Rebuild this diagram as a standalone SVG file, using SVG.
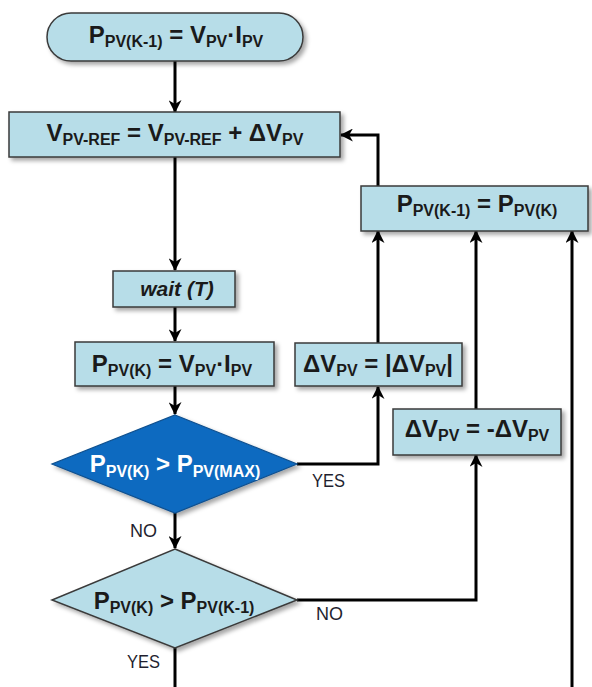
<svg xmlns="http://www.w3.org/2000/svg" width="592" height="687" viewBox="0 0 592 687">
  <defs>
    <filter id="shadow" x="-10%" y="-20%" width="130%" height="160%">
      <feDropShadow dx="3" dy="3" stdDeviation="2" flood-color="#000" flood-opacity="0.35"/>
    </filter>
    <marker id="arrow" markerUnits="userSpaceOnUse" markerWidth="13" markerHeight="13" viewBox="0 0 12 12" refX="11" refY="6" orient="auto">
      <path d="M0,0 L12,6 L0,12 L3.5,6 z" fill="#000"/>
    </marker>
    <style>
      .box { fill: #B7DDE8; stroke: #3a3a3a; stroke-width: 1.5; filter: url(#shadow); }
      .dark { fill: #0B6BC0; stroke: #0a4f8f; stroke-width: 1.2; filter: url(#shadow); }
      .t { font-family: "Liberation Sans", Arial, sans-serif; font-weight: bold; font-size: 24px; fill: #1a1a1a; text-anchor: middle; }
      .s { font-size: 16px; }
      .w { fill: #ffffff; }
      .it { font-style: italic; font-size: 21px; }
      .lbl { font-family: "Liberation Sans", Arial, sans-serif; font-size: 18px; fill: #1f1f2f; }
      .c { fill: none; stroke: #000; stroke-width: 3; }
      .ca { fill: none; stroke: #000; stroke-width: 3; marker-end: url(#arrow); }
    </style>
  </defs>

  <!-- connectors -->
  <g id="connectors">
    <path class="ca" d="M175,61 V112"/>
    <path class="ca" d="M175,157 V270"/>
    <path class="ca" d="M175,307 V341"/>
    <path class="ca" d="M175,386 V414"/>
    <path class="ca" d="M297,464 H378 V387"/>
    <path class="ca" d="M175,513 V548"/>
    <path class="ca" d="M297,600 H476 V455"/>
    <path class="c" d="M175,648 V687"/>
    <path class="ca" d="M378,343 V231"/>
    <path class="ca" d="M476,409 V231"/>
    <path class="ca" d="M572,687 V231"/>
    <path class="ca" d="M378,186 V135 H341"/>
    <text class="lbl" x="312" y="487" textLength="33" lengthAdjust="spacingAndGlyphs">YES</text>
    <text class="lbl" x="130" y="537">NO</text>
    <text class="lbl" x="316" y="620">NO</text>
    <text class="lbl" x="127" y="668" textLength="33" lengthAdjust="spacingAndGlyphs">YES</text>
  </g>

  <!-- start: P(k-1) = V·I -->
  <g id="start">
    <rect class="box" x="47" y="13" width="256" height="48" rx="24" ry="24"/>
    <text class="t" x="176" y="43">P<tspan class="s" dy="4">PV(K-1)</tspan><tspan dy="-4"> = V</tspan><tspan class="s" dy="4">PV</tspan><tspan dy="-4">·I</tspan><tspan class="s" dy="4">PV</tspan></text>
  </g>

  <!-- reference voltage update -->
  <g id="update-vref">
    <rect class="box" x="9" y="112" width="331" height="45"/>
    <text class="t" x="175" y="141">V<tspan class="s" dy="4">PV-REF</tspan><tspan dy="-4"> = V</tspan><tspan class="s" dy="4">PV-REF</tspan><tspan dy="-4"> + ΔV</tspan><tspan class="s" dy="4">PV</tspan></text>
  </g>

  <!-- store previous power -->
  <g id="store-power">
    <rect class="box" x="361" y="186" width="227" height="45"/>
    <text class="t" x="477" y="212">P<tspan class="s" dy="4">PV(K-1)</tspan><tspan dy="-4"> = P</tspan><tspan class="s" dy="4">PV(K)</tspan></text>
  </g>

  <!-- wait -->
  <g id="wait">
    <rect class="box" x="113" y="271" width="122" height="36"/>
    <text class="t it" x="177" y="296">wait (T)</text>
  </g>

  <!-- measure power -->
  <g id="measure-power">
    <rect class="box" x="75" y="342" width="199" height="44"/>
    <text class="t" x="172" y="372">P<tspan class="s" dy="4">PV(K)</tspan><tspan dy="-4"> = V</tspan><tspan class="s" dy="4">PV</tspan><tspan dy="-4">·I</tspan><tspan class="s" dy="4">PV</tspan></text>
  </g>

  <!-- step made positive -->
  <g id="step-abs">
    <rect class="box" x="295" y="343" width="167" height="43"/>
    <text class="t" x="378" y="372">ΔV<tspan class="s" dy="4">PV</tspan><tspan dy="-4"> = |ΔV</tspan><tspan class="s" dy="4">PV</tspan><tspan dy="-4">|</tspan></text>
  </g>

  <!-- step reversed -->
  <g id="step-neg">
    <rect class="box" x="393" y="409" width="168" height="46"/>
    <text class="t" x="477" y="437">ΔV<tspan class="s" dy="4">PV</tspan><tspan dy="-4"> = -ΔV</tspan><tspan class="s" dy="4">PV</tspan></text>
  </g>

  <!-- decision: above maximum -->
  <g id="check-max">
    <polygon class="dark" points="175,415 297,464 175,513 52,464"/>
    <text class="t w" x="175" y="472">P<tspan class="s" dy="5">PV(K)</tspan><tspan dy="-5"> &gt; P</tspan><tspan class="s" dy="5">PV(MAX)</tspan></text>
  </g>

  <!-- decision: power increased -->
  <g id="check-increase">
    <polygon class="box" points="175,549 297,600 175,648 52,600"/>
    <text class="t" x="174" y="609">P<tspan class="s" dy="4">PV(K)</tspan><tspan dy="-4"> &gt; P</tspan><tspan class="s" dy="4">PV(K-1)</tspan></text>
  </g>
</svg>
